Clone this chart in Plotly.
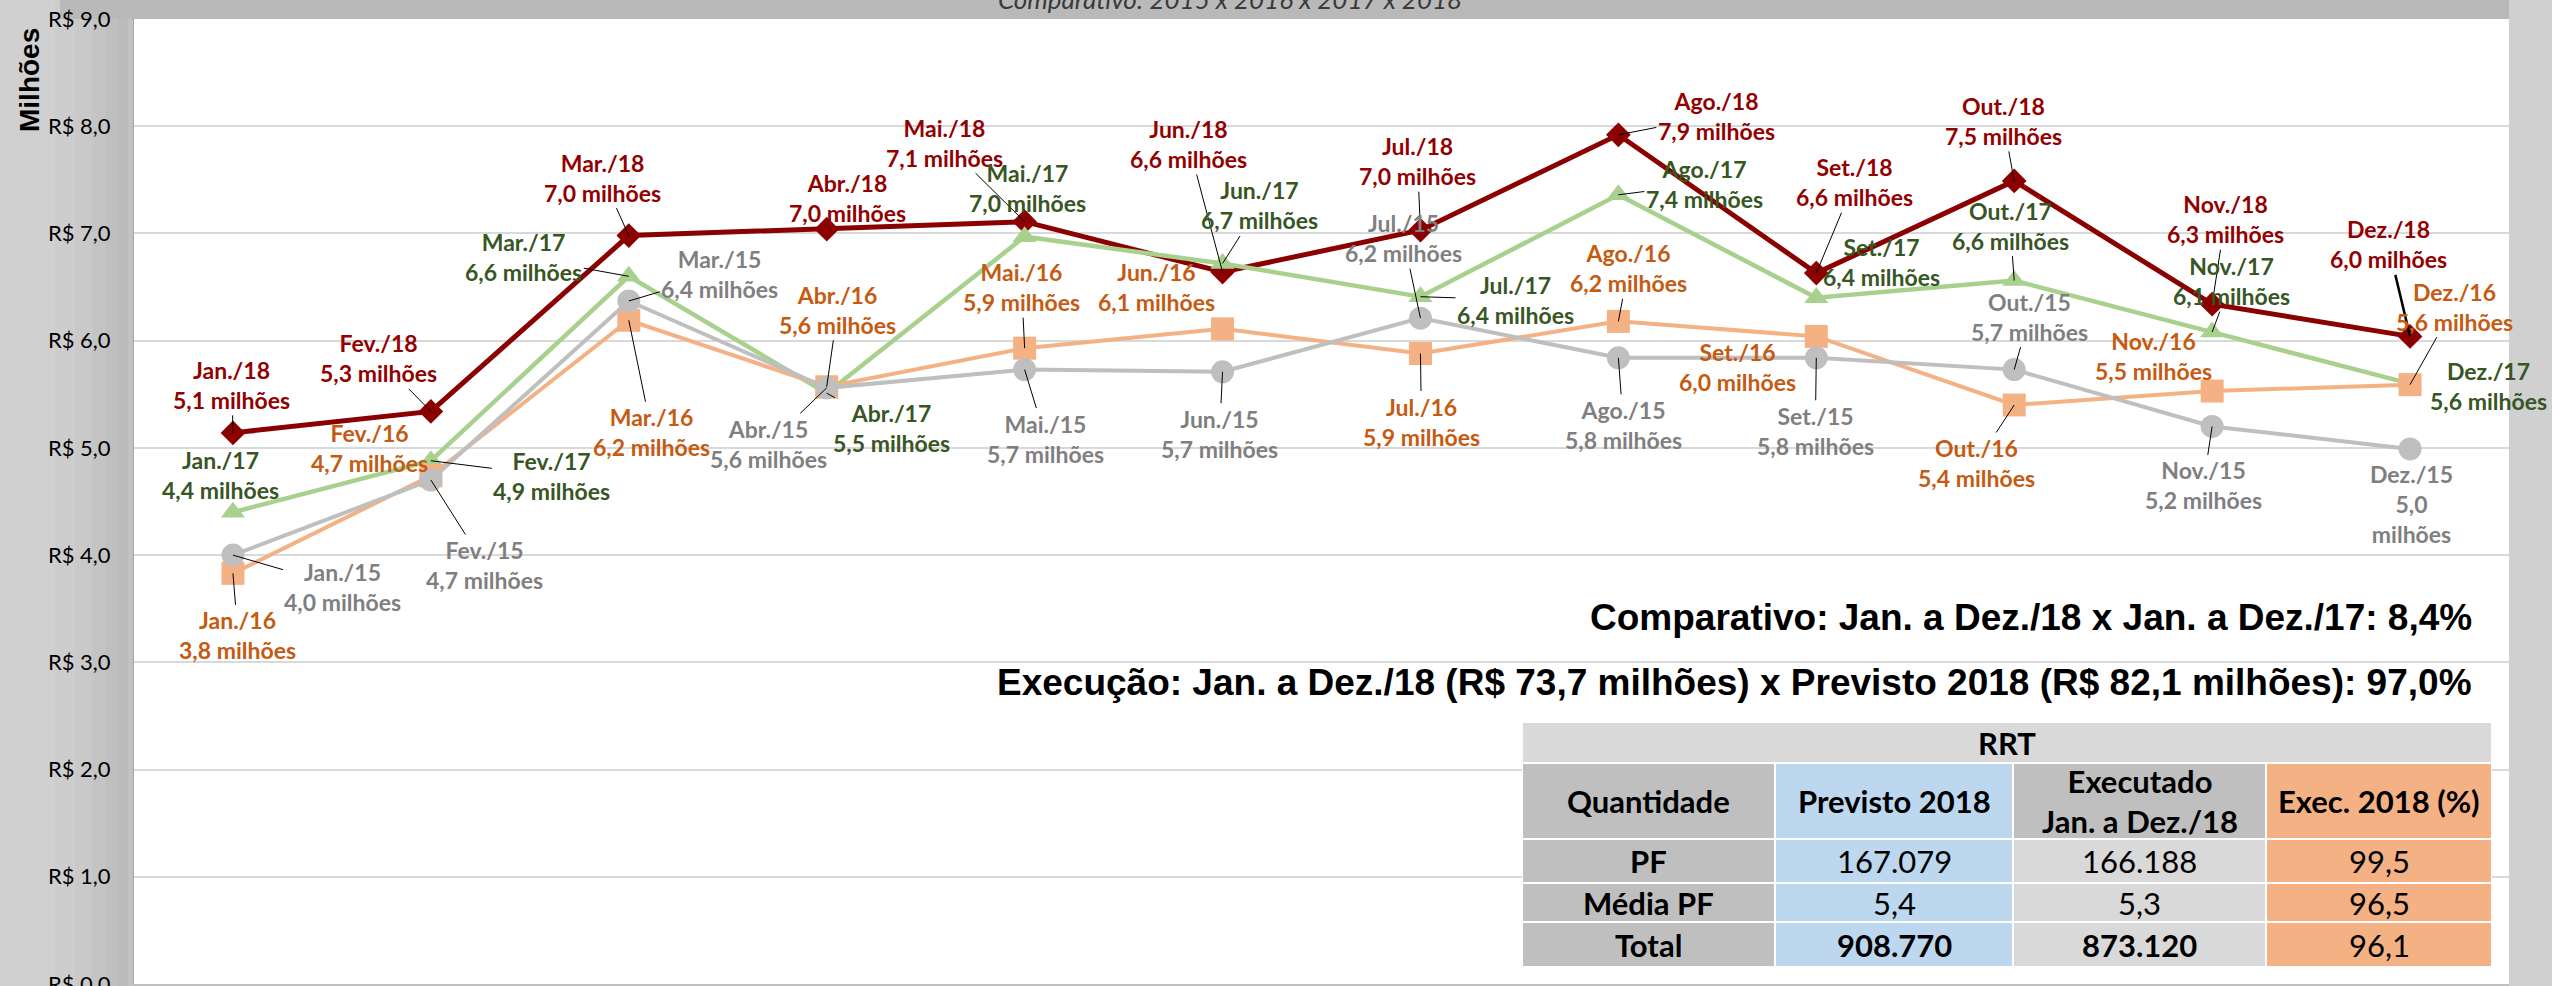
import plotly.graph_objects as go

# ---------------- data ----------------
MONTHS = ["Jan.", "Fev.", "Mar.", "Abr.", "Mai.", "Jun.", "Jul.", "Ago.", "Set.", "Out.", "Nov.", "Dez."]
YEARS = ["2018", "2017", "2016", "2015"]
VALUES_2018 = [5.14, 5.34, 6.98, 7.04, 7.11, 6.64, 7.03, 7.92, 6.63, 7.49, 6.34, 6.04]
VALUES_2017 = [4.40, 4.88, 6.60, 5.51, 6.97, 6.72, 6.41, 7.36, 6.40, 6.56, 6.08, 5.60]
VALUES_2016 = [3.83, 4.74, 6.19, 5.57, 5.93, 6.11, 5.88, 6.18, 6.04, 5.40, 5.53, 5.59]
VALUES_2015 = [4.00, 4.70, 6.37, 5.56, 5.73, 5.71, 6.21, 5.84, 5.84, 5.73, 5.20, 4.99]
SERIES = {"2018": VALUES_2018, "2017": VALUES_2017, "2016": VALUES_2016, "2015": VALUES_2015}

Y_TICK_VALUES = [0, 1, 2, 3, 4, 5, 6, 7, 8, 9]
Y_TICK_LABELS = ["R$ 0,0", "R$ 1,0", "R$ 2,0", "R$ 3,0", "R$ 4,0",
                 "R$ 5,0", "R$ 6,0", "R$ 7,0", "R$ 8,0", "R$ 9,0"]
Y_TITLE = "Milhões"
CHART_TITLE = "Comparativo: 2015 x 2016 x 2017 x 2018"
SUMMARY_LINES = ["Comparativo: Jan. a Dez./18 x Jan. a Dez./17: 8,4%",
                 "Execução: Jan. a Dez./18 (R$ 73,7 milhões) x Previsto 2018 (R$ 82,1 milhões): 97,0%"]

TABLE_TITLE = "RRT"
TABLE_HEADER = ["Quantidade", "Previsto 2018", "Executado<br>Jan. a Dez./18", "Exec. 2018 (%)"]
ROW_LABELS = ["PF", "Média PF", "Total"]
PREVISTO_2018 = [167079, 5.4, 908770]
EXECUTADO_2018 = [166188, 5.3, 873120]
EXEC_2018_PCT = [99.5, 96.5, 96.1]

# ---------------- layout / style ----------------
W, H = 2552, 986
ML, MR, MT, MB = 134, 43, 19, 2
PW, PH = W - ML - MR, H - MT - MB


def px2x(px):
    return (px - ML) / PW


def py2y(py):
    return (H - MB - py) / PH


STYLE = {
    "2018": dict(line="#8B0000", text="#930000", symbol="diamond", size=19, width=5),
    "2017": dict(line="#A9D18E", text="#375623", symbol="triangle-up", size=21, width=4.5),
    "2016": dict(line="#F4B183", text="#C55A11", symbol="square", size=23, width=4),
    "2015": dict(line="#BFBFBF", text="#7F7F7F", symbol="circle", size=23, width=4),
}

# label offsets in pixels (dx, dy, leader width; 0 = no leader line)
LABEL_OFFSETS = {
    "2018": [(-1, -48, 1), (-52, -53, 1), (-26, -58, 1), (21, -31, 0), (-80, -79, 1), (-34, -128, 1),
             (-3, -69, 1), (98, -19, 1), (38, -91, 1), (-11, -60, 1), (13, -85, 1), (-22, -92, 2.5)],
    "2017": [(-12, -37, 0), (121, 15, 1), (-105, -19, 1), (65, 35, 1), (3, -49, 0), (37, -58, 1),
             (95, 3, 1), (86, -11, 1), (65, -36, 0), (-4, -55, 1), (19, -51, 1), (78, 2, 0)],
    "2016": [(5, 62, 1), (-61, -28, 0), (23, 112, 1), (11, -77, 1), (-3, -61, 1), (-66, -42, 0),
             (1, 68, 1), (10, -53, 1), (-79, 31, 0), (-38, 58, 1), (-59, -35, 0), (44, -78, 1)],
    "2015": [(110, 32, 1), (54, 85, 1), (91, -27, 1), (-58, 56, 1), (21, 69, 1), (-3, 62, 1),
             (-17, -80, 1), (5, 67, 1), (-1, 73, 1), (15, -53, 1), (-9, 59, 1), (1, 55, 0)],
}
WRAPPED_LABELS = {("2015", 11)}

LABEL_FONT = "Lato, Carlito, Calibri, sans-serif"
NARROW_FONT = "Liberation Sans Narrow, Arial Narrow, sans-serif"


def fmt_dec(v):
    return f"{v:.1f}".replace(".", ",")


def fmt_num(v):
    if float(v).is_integer() and v >= 1000:
        return f"{int(v):,}".replace(",", ".")
    return fmt_dec(v)


fig = go.Figure()

for yr in YEARS:
    st = STYLE[yr]
    fig.add_trace(go.Scatter(
        x=MONTHS, y=SERIES[yr], mode="lines+markers", name=yr,
        line=dict(color=st["line"], width=st["width"]),
        marker=dict(symbol=st["symbol"], size=st["size"], color=st["line"], line=dict(width=0)),
        cliponaxis=False, hoverinfo="skip", showlegend=False,
    ))

annotations = []
for yr in YEARS:
    st = STYLE[yr]
    for i, (m, v) in enumerate(zip(MONTHS, SERIES[yr])):
        dx, dy, lw = LABEL_OFFSETS[yr][i]
        sep = "<br>" if (yr, i) in WRAPPED_LABELS else " "
        txt = f"{m}/{yr[2:]}<br>{fmt_dec(v)}{sep}milhões"
        annotations.append(dict(
            x=m, y=v, xref="x", yref="y", text=txt, showarrow=True,
            ax=dx, ay=dy, arrowhead=0, standoff=0, startstandoff=0,
            arrowwidth=lw if lw else 1,
            arrowcolor="#000000" if lw else "rgba(0,0,0,0)",
            font=dict(family=LABEL_FONT, size=23, color=st["text"], weight="bold"),
            align="center",
        ))

# chart title (partially cut at the top, as in the original)
annotations.append(dict(
    x=px2x(1230), y=py2y(17), xref="paper", yref="paper", xanchor="center", yanchor="bottom",
    text=CHART_TITLE, showarrow=False,
    font=dict(family=LABEL_FONT, size=26, color="#3A3A3A", style="italic"),
))
# y-axis title
annotations.append(dict(
    x=px2x(29), y=py2y(80), xref="paper", yref="paper", xanchor="center", yanchor="middle",
    text=Y_TITLE, textangle=-90, showarrow=False,
    font=dict(family="Liberation Sans, Arial, sans-serif", size=28, color="#000000", weight="bold"),
))
# summary lines
for txt, py in zip(SUMMARY_LINES, [617, 682]):
    annotations.append(dict(
        x=px2x(2474), y=py2y(py), xref="paper", yref="paper", xanchor="right", yanchor="middle",
        text=txt, showarrow=False,
        font=dict(family=NARROW_FONT, size=37, color="#000000", weight="bold"),
    ))

# ---------------- table (drawn on its own hidden axes) ----------------
COL_W = [253, 238, 253, 226]
ROW_H = [41, 76, 44, 39, 45]
FILL_HEADER = ["#BFBFBF", "#BDD7EE", "#BFBFBF", "#F4B183"]
FILL_BODY = ["#BFBFBF", "#BDD7EE", "#D9D9D9", "#F4B183"]
FILL_TITLE = "#D9D9D9"
TABLE_FONT = dict(family=LABEL_FONT, size=31, color="#000000")

col_x = [0]
for w in COL_W:
    col_x.append(col_x[-1] + w)
row_y = [0]
for h in ROW_H:
    row_y.append(row_y[-1] + h)

shapes = []
# background shading (decoration around the plot area)
for x0, x1, c in [(55, 75, "#CDCDCD"), (75, 92, "#C9C9C9"), (92, 106, "#C4C4C4"),
                  (106, 118, "#BFBFBF"), (118, 128, "#BBBBBB"), (128, 134, "#C2C2C2")]:
    shapes.append(dict(type="rect", xref="paper", yref="paper", x0=px2x(x0), x1=px2x(x1),
                       y0=py2y(H), y1=py2y(0), fillcolor=c, line=dict(width=0), layer="below"))
shapes.append(dict(type="rect", xref="paper", yref="paper", x0=px2x(60), x1=px2x(2509),
                   y0=py2y(MT), y1=py2y(0), fillcolor="#B9B9B9", line=dict(width=0), layer="below"))

cell_line = dict(color="#FFFFFF", width=2)
# title row
shapes.append(dict(type="rect", xref="x2", yref="y2", x0=col_x[0], x1=col_x[-1],
                   y0=row_y[0], y1=row_y[1], fillcolor=FILL_TITLE, line=cell_line))
annotations.append(dict(x=col_x[-1] / 2, y=(row_y[0] + row_y[1]) / 2, xref="x2", yref="y2",
                        text=f"<b>{TABLE_TITLE}</b>", showarrow=False, font=TABLE_FONT))
# header
for c, htxt in enumerate(TABLE_HEADER):
    shapes.append(dict(type="rect", xref="x2", yref="y2", x0=col_x[c], x1=col_x[c + 1],
                       y0=row_y[1], y1=row_y[2], fillcolor=FILL_HEADER[c], line=cell_line))
    annotations.append(dict(x=(col_x[c] + col_x[c + 1]) / 2, y=(row_y[1] + row_y[2]) / 2,
                            xref="x2", yref="y2", text=f"<b>{htxt}</b>".replace("<br>", "</b><br><b>"),
                            showarrow=False, font=TABLE_FONT))
# body
body_cols = [ROW_LABELS, [fmt_num(v) for v in PREVISTO_2018],
             [fmt_num(v) for v in EXECUTADO_2018], [fmt_dec(v) for v in EXEC_2018_PCT]]
for r in range(len(ROW_LABELS)):
    for c in range(4):
        y0, y1 = row_y[2 + r], row_y[3 + r]
        shapes.append(dict(type="rect", xref="x2", yref="y2", x0=col_x[c], x1=col_x[c + 1],
                           y0=y0, y1=y1, fillcolor=FILL_BODY[c], line=cell_line))
        txt = body_cols[c][r]
        bold = (c == 0) or (ROW_LABELS[r] == "Total" and c in (1, 2))
        annotations.append(dict(x=(col_x[c] + col_x[c + 1]) / 2, y=(y0 + y1) / 2,
                                xref="x2", yref="y2", text=f"<b>{txt}</b>" if bold else txt,
                                showarrow=False, font=TABLE_FONT))

fig.add_trace(go.Scatter(x=[], y=[], xaxis="x2", yaxis="y2", showlegend=False, hoverinfo="skip"))

fig.update_layout(
    width=W, height=H,
    margin=dict(l=ML, r=MR, t=MT, b=MB, pad=0, autoexpand=False),
    paper_bgcolor="#D0D0D0", plot_bgcolor="#FFFFFF",
    showlegend=False,
    xaxis=dict(type="category", range=[-0.5, 11.5], showgrid=False, showline=True,
               linecolor="#BFBFBF", linewidth=2, ticks="outside", tickson="boundaries",
               ticklen=6, tickcolor="#BFBFBF", showticklabels=False, fixedrange=True,
               automargin=False),
    yaxis=dict(range=[0, 9], tickvals=Y_TICK_VALUES, ticktext=Y_TICK_LABELS, showgrid=True,
               gridcolor="#D9D9D9", gridwidth=2, zeroline=False, showline=True,
               linecolor="#A6A6A6", linewidth=1, ticks="", ticklabelstandoff=18,
               ticklabeloverflow="allow", automargin=False,
               tickfont=dict(family=LABEL_FONT, size=22, color="#000000"), fixedrange=True),
    xaxis2=dict(domain=[px2x(1522), px2x(1522 + sum(COL_W))], range=[0, sum(COL_W)],
                visible=False, anchor="y2", fixedrange=True, automargin=False),
    yaxis2=dict(domain=[py2y(722 + sum(ROW_H)), py2y(722)], range=[sum(ROW_H), 0],
                visible=False, anchor="x2", fixedrange=True, automargin=False),
    shapes=shapes,
    annotations=annotations,
)

fig.write_html("out.html", config={"displayModeBar": False},
               post_script="document.body.style.margin='0px';document.body.style.overflow='hidden';")
